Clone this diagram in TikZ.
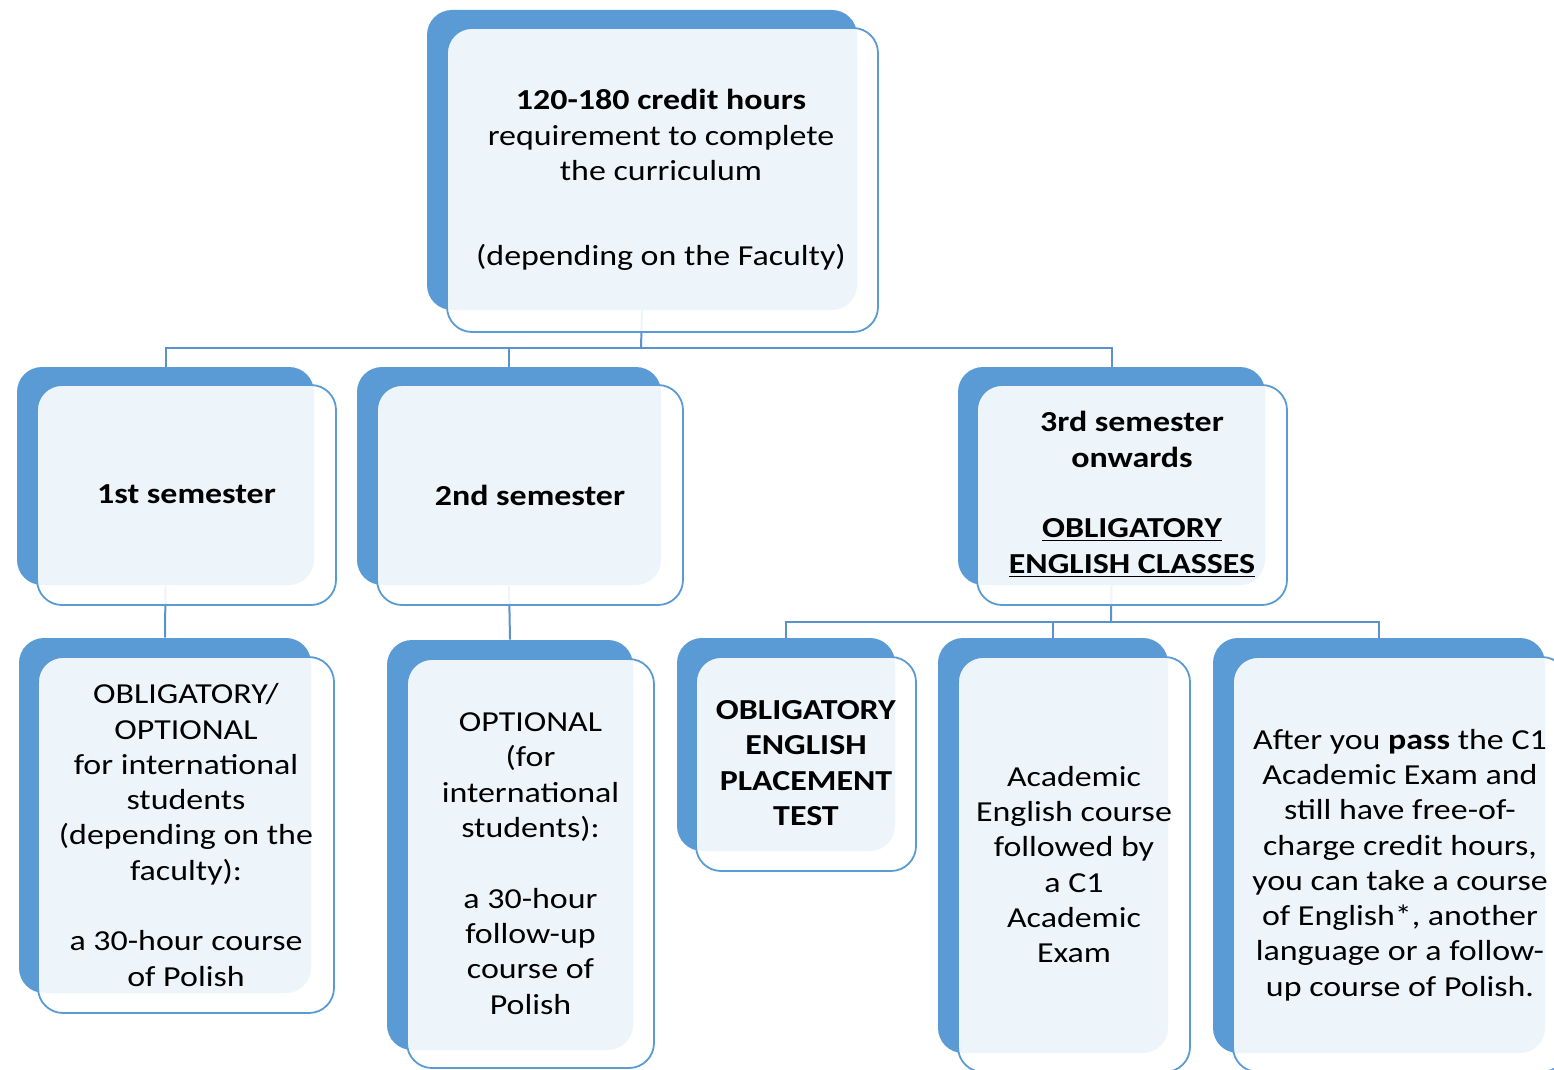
\documentclass[tikz,border=0pt]{standalone}
\usepackage{fontspec}
\setmainfont{Carlito}[FakeStretch=1.17]
\usetikzlibrary{backgrounds,fit}
\definecolor{acc}{HTML}{5B9BD5}
\definecolor{lnk}{HTML}{5A92CC}
\begin{document}
\begin{tikzpicture}[x=0.5pt,y=-0.5pt,
  back/.style={fill=acc, draw=none, rounded corners=12.5pt, inner sep=0pt},
  front/.style={fill=white, fill opacity=0.9, draw=acc, draw opacity=1, line width=0.9pt, rounded corners=12.5pt, inner sep=0pt},
  txt/.style={align=center, font=\fontsize{14.5pt}{17.65pt}\selectfont, inner sep=0pt, text=black},
  conn/.style={draw=lnk, line width=1pt}]
\useasboundingbox (0,0) rectangle (1554,1070);
\clip (0,0) rectangle (1554,1070);

% top box
\node[back, fit={(427,10) (857,310)}] (b0) {};
\node[front, fit={(447,28) (878,332)}] (f0) {};
\node[txt] (t0) at (661,180) {\textbf{120-180 credit hours}\\requirement to complete\\the curriculum\\[24.85pt](depending on the Faculty)};

% second row
\node[back, fit={(17,367) (314,585)}] (b1) {};
\node[front, fit={(37,385) (336,605)}] (f1) {};
\node[txt] (t1) at (186.5,494) {\textbf{1st semester}};

\node[back, fit={(357,367) (661,585)}] (b2) {};
\node[front, fit={(377,385) (683,605)}] (f2) {};
\node[txt] (t2) at (530,495) {\textbf{2nd semester}};

\node[back, fit={(958,367) (1265,585)}] (b3) {};
\node[front, fit={(977,385) (1287,605)}] (f3) {};
\node[txt] (t3) at (1132,494.5) {\textbf{3rd semester}\\\textbf{onwards}\\[17.65pt]\textbf{\underline{OBLIGATORY}}\\\textbf{\underline{ENGLISH CLASSES}}};

% third row
\node[back, fit={(19,638) (311,993)}] (bA) {};
\node[front, fit={(38,657) (334,1013)}] (fA) {};
\node[txt] (tA) at (186,835) {OBLIGATORY/\\OPTIONAL\\for international\\students\\(depending on the\\faculty):\\[17.65pt]a 30-hour course\\of Polish};

\node[back, fit={(387,640) (633,1050)}] (bB) {};
\node[front, fit={(407,659) (654,1068)}] (fB) {};
\node[txt] (tB) at (530.5,863.5) {OPTIONAL\\(for\\international\\students):\\[17.65pt]a 30-hour\\follow-up\\course of\\Polish};

\node[back, fit={(677,638) (895,851)}] (bC) {};
\node[front, fit={(696,657) (916,871)}] (fC) {};
\node[txt] (tC) at (806,763) {\textbf{OBLIGATORY}\\\textbf{ENGLISH}\\\textbf{PLACEMENT}\\\textbf{TEST}};

\node[back, fit={(938,638) (1168,1053)}] (bD) {};
\node[front, fit={(958,657) (1190,1072)}] (fD) {};
\node[txt] (tD) at (1074,864.5) {Academic\\English course\\followed by\\a C1\\Academic\\Exam};

\node[back, fit={(1213,638) (1545,1053)}] (bE) {};
\node[front, fit={(1233,657) (1567,1072)}] (fE) {};
\node[txt] (tE) at (1400,865) {After you \textbf{pass} the C1\\Academic Exam and\\still have free-of-\\charge credit hours,\\you can take a course\\of English*, another\\language or a follow-\\up course of Polish.};

% connectors
\coordinate (bus0) at (641,348);
\coordinate (bus3) at (1111,622);
\begin{pgfonlayer}{background}
\draw[conn] (b0.south) -- (bus0);
\draw[conn] (b1.north) -- (b1.north |- bus0) -- (b3.north |- bus0) -- (b3.north);
\draw[conn] (b2.north) -- (b2.north |- bus0);
\draw[conn] (b1.south) -- (bA.north);
\draw[conn] (b2.south) -- (bB.north);
\draw[conn] (b3.south) -- (bus3);
\draw[conn] (bC.north) -- (bC.north |- bus3) -- (bE.north |- bus3) -- (bE.north);
\draw[conn] (bD.north) -- (bD.north |- bus3);
\end{pgfonlayer}
\end{tikzpicture}
\end{document}
